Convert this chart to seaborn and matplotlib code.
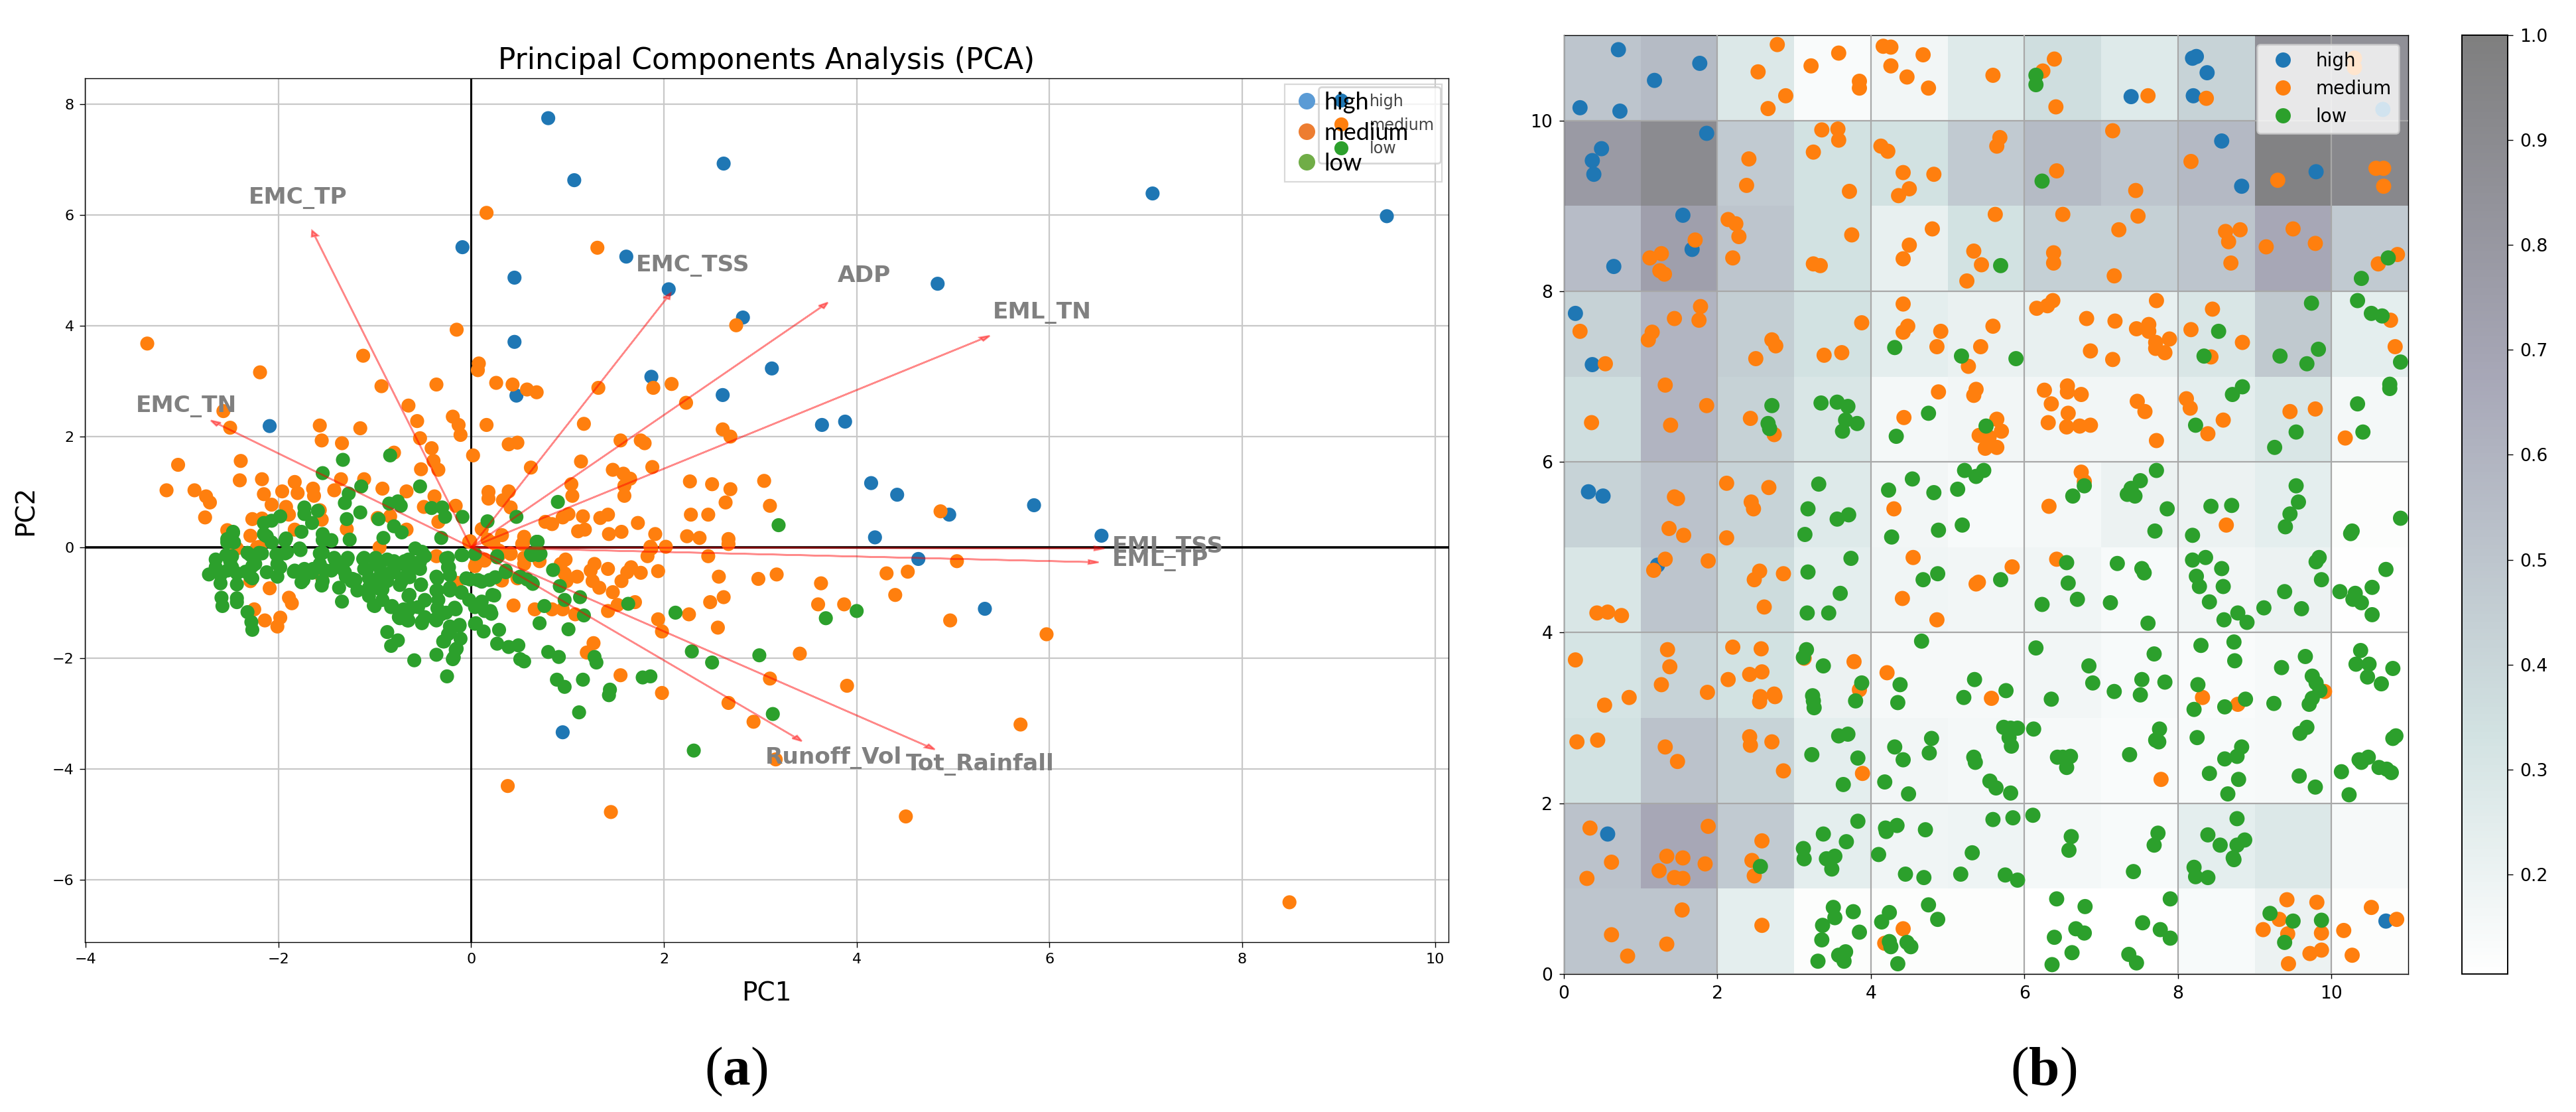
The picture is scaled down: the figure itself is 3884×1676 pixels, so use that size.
import matplotlib
matplotlib.use("Agg")
import matplotlib.pyplot as plt
from matplotlib.lines import Line2D
import numpy as np
import pandas as pd
import seaborn as sns

W, H = 3884, 1676
DPI = 200
TAB_COLORS = {"high": "#1f77b4", "medium": "#ff7f0e", "low": "#2ca02c"}
OFFICE_COLORS = ["#5B9BD5", "#ED7D31", "#70AD47"]
LEVELS = ["high", "medium", "low"]

# PCA scores
pca_high = [(.80, 7.75), (2.62, 6.93), (1.07, 6.63), (-.09, 5.42), (1.61, 5.25), (.45, 4.87), (2.05, 4.66),
            (2.82, 4.15), (.45, 3.71), (3.12, 3.23), (1.87, 3.08), (.47, 2.74), (2.61, 2.75), (-2.09, 2.19),
            (.95, -3.34), (7.07, 6.39), (9.50, 5.98), (4.84, 4.76), (3.64, 2.21), (3.88, 2.27), (4.15, 1.16),
            (4.42, .95), (4.96, .59), (5.84, .76), (6.54, .21), (4.19, .18), (4.64, -.21), (5.33, -1.11)]
pca_medium = [(4.87, .65), (5.04, -.25), (4.31, -.47), (4.53, -.44), (3.63, -.65), (4.40, -.86), (3.60, -1.03),
              (3.87, -1.03), (4.97, -1.32), (5.97, -1.57), (3.41, -1.92), (3.90, -2.50), (5.70, -3.20),
              (4.51, -4.86), (8.49, -6.41),
              (.16, 6.04), (1.31, 5.41), (-.15, 3.93), (2.75, 4.01), (-3.36, 3.68), (-1.12, 3.46), (-2.19, 3.16),
              (.08, 3.32), (.07, 3.20), (.26, 2.97), (.43, 2.94), (-.93, 2.91), (-.36, 2.94), (.58, 2.85),
              (.68, 2.80), (1.32, 2.88), (1.89, 2.88), (2.08, 2.95), (2.23, 2.61), (-.65, 2.56), (-2.57, 2.46),
              (-2.50, 2.16), (-1.57, 2.20), (-1.15, 2.15), (-.56, 2.28), (-.19, 2.36), (-.13, 2.21), (-.11, 2.03),
              (.16, 2.21), (1.17, 2.23), (2.61, 2.13), (2.69, 2.00), (-1.55, 1.93), (-1.34, 1.88), (-.53, 1.97),
              (.39, 1.86), (.48, 1.89), (1.55, 1.93), (1.76, 1.93), (1.80, 1.88), (-.80, 1.71), (-.41, 1.79),
              (.02, 1.66), (-2.39, 1.56), (-3.04, 1.49), (-.39, 1.56), (-.52, 1.41), (-.34, 1.40), (.62, 1.44),
              (1.14, 1.55), (1.47, 1.40), (1.58, 1.33), (1.88, 1.45), (-2.40, 1.21), (-2.17, 1.23), (-1.83, 1.18),
              (-1.35, 1.23), (-1.11, 1.23), (2.27, 1.19), (2.50, 1.14), (3.04, 1.20), (1.65, 1.24), (1.59, 1.11),
              (1.04, 1.14), (-3.16, 1.03), (-2.87, 1.03), (-1.96, 1.01), (-1.80, .98), (-1.64, 1.06), (-1.63, .93),
              (-1.42, 1.03), (-.92, 1.06), (-.67, 1.01), (.18, 1.00), (.39, 1.01), (2.69, 1.05), (1.05, .93),
              (1.59, .93), (-2.75, .92), (-2.15, .96), (-.38, .92), (.18, .88), (.33, .85), (-2.71, .81),
              (-2.07, .77), (2.64, .81), (3.10, .75), (-.49, .73), (-.16, .75), (.41, .72), (-1.92, .73),
              (-2.76, .54), (-2.27, .51), (-2.17, .52), (-1.89, .59), (-1.57, .67), (-1.55, .50), (2.28, .59),
              (2.46, .59), (1.42, .59), (1.34, .53), (1.16, .56), (1.01, .60), (.95, .54), (.77, .46), (.84, .42),
              (1.73, .44), (-.97, .53), (-.84, .56), (-.34, .46), (-1.29, .33), (-1.83, .32), (-2.53, .31),
              (-.67, .32), (.11, .33), (-2.29, .21), (1.11, .29), (1.18, .32), (1.43, .24), (1.56, .28),
              (1.91, .24), (2.24, .20), (2.37, .17), (2.67, .15), (2.67, .06), (.32, .22), (.17, .14), (.55, .19),
              (-.01, .11), (.54, .08), (1.86, .01), (2.02, .01), (-2.19, .01),
              (2.46, -.16), (1.87, -.02), (1.83, -.16), (.98, -.22), (.93, -.30), (1.28, -.30), (1.24, -.42),
              (1.42, -.39), (1.66, -.36), (1.62, -.45), (1.76, -.46), (1.94, -.43), (2.57, -.53), (2.98, -.57),
              (3.17, -.49), (1.56, -.61), (.97, -.47), (1.10, -.53), (.99, -.61), (1.26, -.61), (1.33, -.73),
              (1.47, -.81), (2.62, -.90), (2.48, -.99), (1.52, -1.04), (1.70, -.99), (1.42, -1.15), (.44, -1.05),
              (.66, -1.12), (.84, -1.12), (.95, -1.12), (1.08, -1.21), (2.26, -1.21), (1.94, -1.30), (2.56, -1.45),
              (1.98, -1.52), (1.27, -1.73), (1.20, -1.90), (1.55, -2.31), (3.10, -2.37), (1.98, -2.63),
              (2.67, -2.81), (2.93, -3.15), (3.16, -3.83), (.38, -4.31), (1.45, -4.78),
              (-2.09, -.74), (-1.89, -.91), (-1.86, -1.01), (-2.25, -1.12), (-2.14, -1.32), (-1.98, -1.27),
              (-2.01, -1.43), (-2.29, -.61), (.05, -.30), (.14, -.22), (.29, -.14), (.41, -.11), (.55, -.19),
              (.55, -.30), (.71, -.25), (.31, -.59), (.48, -.56), (-.15, -.64), (-.36, -.16), (-.95, 0),
              (-2.43, -.02), (-2.22, 0), (-1.55, -.53),
              (.53, .06), (.41, -.12), (.23, .08), (.32, -.60), (.29, -.06), (.14, -.24), (.04, -.34), (-.02, .10)]
pca_low = [(-1.33, 1.58), (-.84, 1.66), (-1.54, 1.34), (-1.14, 1.10), (-1.27, .97), (-1.31, .80), (-.53, 1.10),
           (-.85, .79), (-.76, .83), (-.73, .75), (.90, .82), (-.41, .71), (-.30, .72), (-.27, .55), (-.09, .55),
           (.17, .47), (.47, .55), (3.19, .40), (-1.15, .63), (-1.29, .51), (-.96, .51), (-1.73, .72), (-1.73, .60),
           (-1.59, .66), (-1.98, .56), (-2.07, .48), (-2.15, .44), (-1.65, .44), (-1.76, .28), (-.80, .38),
           (-.72, .27), (-2.15, .24), (-1.54, .24), (-1.26, .14), (-.91, .17), (-2.47, .28), (-2.53, .15),
           (.69, .10), (-.31, .17),
           (-2.53, .09), (-2.47, .26), (-2.46, .09), (-2.54, -.14), (-2.65, -.22), (-2.48, -.16), (-2.65, -.36),
           (-2.48, -.36), (-2.72, -.49), (-2.60, -.50), (-2.53, -.42), (-2.43, -.47), (-2.60, -.65), (-2.43, -.67),
           (-2.59, -.91), (-2.58, -1.06), (-2.43, -.92), (-2.43, -.99), (-2.32, -1.17), (-2.28, -1.35),
           (-2.27, -1.49), (-2.12, .20), (-2.07, .09), (-1.93, .12), (-1.78, -.02), (-2.29, -.14), (-2.17, -.11),
           (-1.93, -.11), (-2.24, -.30), (-2.29, -.53), (-2.12, -.45), (-2.01, -.53), (-2.01, -.30), (-1.83, -.42),
           (-1.73, -.39), (-1.74, -.59), (-1.64, -.39), (-1.54, -.61), (-1.57, -.30), (-1.45, .12), (-1.54, .13),
           (-1.57, -.11), (-1.42, -.19), (-1.28, -.19), (-1.33, -.39), (-1.30, -.53), (-1.24, -.61), (-1.37, -.73),
           (-1.34, -.98), (-1.18, -.78), (-1.11, -.19), (-1.11, -.39), (-.99, -.19), (-.95, -.36), (-1.06, -.56),
           (-.95, -.53), (-1.06, -.73), (-.95, -.75), (-1.01, -1.05), (-.92, -.95), (-.82, -1.06), (-.80, -.25),
           (-.80, -.45), (-.65, -.22), (-.65, -.45), (-.48, -.16), (-.53, -.39), (-.58, -.02), (-.51, -.08),
           (-.72, -.61), (-.52, -.67), (-.64, -.86), (-.48, -.95), (-.70, -1.12), (-.62, -1.09), (-.75, -1.26),
           (-.65, -1.32), (-.48, -1.26), (-.51, -1.37), (-.87, -1.53), (-.76, -1.68), (-.83, -1.78), (-.59, -2.04),
           (-.36, -1.94), (-.18, -1.99), (-.15, -1.83), (-.29, -1.70), (-.11, -1.65), (-.24, -1.57), (-.22, -1.43),
           (-.12, -1.40), (-.25, -2.33), (-.36, -.53), (-.24, -.19), (-.24, -.36), (-.10, -.14), (-.05, -.56),
           (-.36, -.78), (-.22, -.73), (-.10, -.81), (-.34, -.95), (-.17, -1.09), (-.31, -1.21), (-.36, -1.32),
           (-.02, -.95), (.07, -1.06), (.14, -1.15), (.05, -1.37), (.13, -1.52), (.29, -1.49), (.24, -.87),
           (.20, -1.15), (.07, -.59), (.19, -.59), (.36, -.45), (.27, -.16), (.27, -1.74), (.39, -1.80), (.49, -1.77),
           (.51, -2.02), (.55, -2.06), (.51, -.53), (.63, -.64), (.63, -.14), (.70, -.14), (.85, -.41), (.92, -.70),
           (.97, -.95), (1.13, -.90), (.76, -1.06), (.71, -1.37), (1.01, -1.48), (1.17, -1.23), (1.63, -1.02),
           (2.12, -1.18), (.80, -1.89), (.91, -1.98), (1.28, -1.98), (1.30, -2.08), (.89, -2.39), (.97, -2.52),
           (1.16, -2.39), (1.44, -2.57), (1.43, -2.67), (1.78, -2.35), (1.86, -2.33), (1.12, -2.98), (2.29, -1.88),
           (2.50, -2.08), (2.99, -1.95), (3.13, -3.01), (2.31, -3.67), (3.68, -1.28), (4.00, -1.15),
           (-1.20, -.59), (-.87, -.61), (-.87, -.22), (-.72, -.30), (-1.45, -.42),
           # the dense part around PC2 = -0.5
           (-2.50, -.25), (-2.32, -.10), (-2.20, -.10), (-2.27, -.34), (-2.34, -.44), (-2.27, -.56), (-1.98, -.36),
           (-2.02, -.13), (-1.91, -.09), (-1.92, .16), (-2.14, .22), (-1.77, -.05), (-1.84, -.44), (-1.75, -.46),
           (-1.76, -.63), (-1.65, -.46), (-1.55, -.69), (-1.59, -.37), (-1.52, -.41), (-1.54, -.10), (-1.45, .13),
           (-1.41, -.23), (-1.29, -.23), (-1.31, -.45), (-1.23, -.57), (-1.12, -.21), (-1.08, -.40), (-.99, -.25),
           (-1.03, -.65), (-.92, -.76), (-1.06, -.88), (-1.00, -1.06), (-.83, -1.08), (-.74, -1.28), (-.66, -1.32),
           (-.66, -1.17), (-.74, -.68), (-.65, -.88), (-.78, -.29), (-.69, -.25), (-.83, -.45), (-.68, -.53),
           (-.62, -.26), (-.53, -.26), (-.64, -.54), (-.52, -.68), (-.64, -.86), (-.48, -.96), (-.55, -1.08),
           (-.51, -1.34), (-.37, -1.30), (-.35, -1.10), (-.26, -1.18), (-.16, -1.12), (-.35, -.56), (-.26, -.20),
           (-.23, -.36), (-.22, -.50), (-.35, -.78), (-.22, -.78), (-.10, -.82), (-.01, -.58), (.04, -.12),
           (-.09, -.14), (.11, -.62), (.25, -.54), (.36, -.42), (.27, -.18), (.22, -.86), (.11, -.98), (.04, -1.08),
           (.21, -1.20), (.04, -1.38), (.50, -.54), (.58, -.58), (.64, -.66), (.62, -.12), (.68, .10), (.72, -.12),
           (-.28, -1.70), (-.21, -1.48), (-.12, -1.42), (-.16, -1.85), (-.19, -2.02)]

# loading vectors and their labels
loading_names = ["EMC_TP", "EMC_TSS", "ADP", "EML_TN", "EMC_TN", "EML_TSS", "EML_TP", "Runoff_Vol", "Tot_Rainfall"]
loading_x = [-1.65, 2.07, 3.70, 5.38, -2.70, 6.57, 6.51, 3.43, 4.81]
loading_y = [5.72, 4.59, 4.42, 3.82, 2.29, -.02, -.27, -3.50, -3.65]
label_x = [-2.31, 1.71, 3.80, 5.41, -3.48, 6.65, 6.65, 3.05, 4.51]
label_y = [6.31, 5.09, 4.90, 4.24, 2.55, .01, -.24, -3.80, -3.92]

# SOM positions
som_high = [(.71, 10.83), (1.77, 10.67), (1.18, 10.47), (.21, 10.15), (.73, 10.11), (1.86, 9.85), (.49, 9.67),
            (.37, 9.53), (.39, 9.37), (1.55, 8.89), (1.67, 8.49), (.65, 8.29), (.15, 7.74), (.37, 7.14), (.32, 5.65),
            (.51, 5.60), (.57, 1.64), (1.22, 4.79), (8.19, 10.73), (8.24, 10.75), (8.38, 10.56), (8.20, 10.29),
            (7.39, 10.28), (8.57, 9.76), (8.83, 9.23), (9.80, 9.40), (10.67, 10.13), (10.71, .62)]
som_medium = [(2.78, 10.89), (2.53, 10.57), (2.89, 10.29), (2.66, 10.14), (3.22, 10.64), (3.58, 10.79), (3.85, 10.46),
              (3.85, 10.38), (4.16, 10.87), (4.26, 10.86), (4.68, 10.77), (4.26, 10.64), (4.47, 10.51), (4.75, 10.38),
              (5.59, 10.53), (3.36, 9.89), (3.57, 9.90), (3.58, 9.77), (3.25, 9.63), (2.41, 9.55), (2.38, 9.24),
              (3.72, 9.17), (4.13, 9.70), (4.22, 9.64), (4.42, 9.39), (4.82, 9.37), (4.50, 9.20), (4.36, 9.12),
              (5.68, 9.80), (5.64, 9.70), (1.71, 8.60), (1.27, 8.44), (1.12, 8.39), (1.25, 8.24), (1.31, 8.20),
              (2.14, 8.84), (2.24, 8.79), (2.28, 8.64), (2.20, 8.39), (3.75, 8.66), (3.25, 8.32), (3.34, 8.30),
              (4.80, 8.73), (4.50, 8.54), (4.42, 8.38), (5.62, 8.90), (5.34, 8.47), (5.44, 8.31), (5.25, 8.12),
              (.21, 7.53), (.54, 7.15), (1.78, 7.82), (1.44, 7.68), (1.76, 7.66), (1.15, 7.52), (1.10, 7.43),
              (2.71, 7.43), (2.76, 7.36), (2.50, 7.21), (3.88, 7.63), (3.39, 7.25), (3.62, 7.28), (4.42, 7.85),
              (4.48, 7.59), (4.42, 7.52), (4.91, 7.53), (4.86, 7.35), (5.59, 7.59), (5.43, 7.35), (5.27, 7.12),
              (1.32, 6.90), (1.86, 6.66), (1.39, 6.43), (.36, 6.46), (2.43, 6.51), (2.74, 6.32), (4.88, 6.82),
              (4.43, 6.52), (5.37, 6.85), (5.34, 6.78), (5.64, 6.50), (5.70, 6.36), (5.41, 6.31), (5.54, 6.29),
              (5.49, 6.16), (5.64, 6.17), (5.54, 6.20), (1.44, 5.59), (1.48, 5.57), (2.12, 5.75), (2.67, 5.70),
              (2.44, 5.53), (2.47, 5.45), (4.30, 5.45), (1.37, 5.22), (1.56, 5.14), (2.12, 5.11), (1.32, 4.86),
              (1.17, 4.73), (1.88, 4.84), (2.55, 4.72), (2.48, 4.62), (2.86, 4.69), (2.61, 4.30), (.43, 4.23),
              (.57, 4.24), (.75, 4.20), (4.55, 4.88), (4.41, 4.40), (4.86, 4.15), (5.84, 4.77), (5.40, 4.59),
              (5.37, 4.57), (.15, 3.68), (1.35, 3.80), (1.38, 3.60), (1.27, 3.39), (.85, 3.24), (.53, 3.15),
              (1.87, 3.30), (2.20, 3.83), (2.57, 3.81), (2.42, 3.51), (2.58, 3.54), (2.14, 3.45), (2.74, 3.28),
              (2.75, 3.25), (2.56, 3.25), (2.55, 3.19), (3.13, 3.70), (3.78, 3.66), (3.85, 3.33), (4.21, 3.53),
              (5.57, 3.23), (.17, 2.72), (.44, 2.74), (1.32, 2.66), (1.48, 2.49), (2.42, 2.78), (2.43, 2.68),
              (2.71, 2.72), (2.86, 2.38), (3.89, 2.35), (.34, 1.71), (1.88, 1.73), (2.58, 1.56), (.62, 1.31),
              (.30, 1.12), (1.34, 1.38), (1.55, 1.36), (1.84, 1.29), (1.24, 1.21), (1.44, 1.13), (1.55, 1.12),
              (2.45, 1.33), (2.48, 1.15), (1.54, .75), (.62, .46), (1.34, .35), (.83, .21), (2.58, .57), (4.42, .53),
              (4.18, .36), (6.39, 10.72), (6.24, 10.58), (6.41, 10.16), (7.61, 10.29), (8.37, 10.26), (10.30, 10.73),
              (10.30, 10.62), (7.15, 9.88), (6.42, 9.41), (7.45, 9.18), (8.17, 9.52), (9.30, 9.30), (10.58, 9.44),
              (10.68, 9.44), (10.68, 9.23), (6.50, 8.90), (7.48, 8.88), (7.23, 8.72), (6.38, 8.45), (6.38, 8.33),
              (7.17, 8.18), (8.81, 8.72), (8.62, 8.70), (8.66, 8.58), (8.69, 8.33), (9.50, 8.73), (9.15, 8.52),
              (9.79, 8.56), (10.86, 8.43), (10.61, 8.32), (6.37, 7.89), (6.30, 7.83), (6.16, 7.80), (6.81, 7.68),
              (6.86, 7.30), (7.72, 7.89), (7.18, 7.65), (7.62, 7.61), (7.46, 7.56), (7.62, 7.53), (7.89, 7.44),
              (7.71, 7.40), (7.71, 7.33), (7.83, 7.28), (7.15, 7.20), (8.45, 7.79), (8.17, 7.55), (8.84, 7.40),
              (8.43, 7.23), (10.77, 7.66), (10.83, 7.35), (6.56, 6.89), (6.56, 6.82), (6.26, 6.84), (6.74, 6.79),
              (6.35, 6.68), (6.57, 6.57), (6.31, 6.46), (6.55, 6.41), (6.72, 6.42), (6.86, 6.43), (7.47, 6.71),
              (7.57, 6.59), (7.72, 6.25), (8.11, 6.74), (8.16, 6.63), (8.59, 6.49), (8.39, 6.33), (9.46, 6.59),
              (9.79, 6.62), (10.18, 6.28), (6.74, 5.88), (6.78, 5.77), (6.32, 5.48), (8.63, 5.26), (6.42, 4.86),
              (8.32, 3.24), (8.78, 3.16), (9.91, 3.31), (7.78, 2.28), (9.42, .87), (9.81, .84), (9.32, .64),
              (9.11, .52), (9.43, .47), (9.87, .48), (10.16, .51), (9.87, .28), (9.72, .24), (9.44, .12), (10.27, .22),
              (10.52, .78), (10.85, .64)]
som_low = [(5.69, 8.30), (6.15, 10.53), (6.15, 10.42), (6.23, 9.29), (4.31, 7.34), (5.18, 7.24), (5.89, 7.21),
           (2.71, 6.66), (2.66, 6.45), (2.68, 6.39), (3.35, 6.69), (3.56, 6.70), (3.70, 6.65), (3.67, 6.49),
           (3.82, 6.45), (3.63, 6.36), (4.75, 6.57), (4.33, 6.30), (5.50, 6.42), (5.22, 5.90), (5.47, 5.90),
           (5.37, 5.83), (4.54, 5.80), (5.13, 5.68), (4.23, 5.67), (4.82, 5.64), (3.32, 5.74), (3.18, 5.45),
           (3.71, 5.38), (3.56, 5.33), (3.14, 5.15), (4.27, 5.12), (4.88, 5.20), (5.19, 5.26), (3.74, 4.87),
           (3.18, 4.71), (4.87, 4.69), (4.68, 4.62), (3.60, 4.46), (3.17, 4.23), (3.45, 4.23), (5.69, 4.62),
           (6.23, 4.33), (4.66, 3.90), (6.15, 3.82), (3.16, 3.80), (3.12, 3.71), (3.38, 3.61), (3.88, 3.41),
           (4.38, 3.39), (5.35, 3.45), (5.76, 3.32), (5.21, 3.24), (4.35, 3.18), (3.80, 3.20), (3.24, 3.26),
           (3.25, 3.20), (3.26, 3.12), (5.73, 2.89), (5.82, 2.88), (5.91, 2.88), (6.12, 2.87), (3.58, 2.79),
           (3.70, 2.81), (5.80, 2.77), (4.79, 2.76), (4.31, 2.66), (5.83, 2.67), (4.76, 2.59), (3.23, 2.57),
           (5.34, 2.54), (5.36, 2.48), (4.42, 2.51), (3.83, 2.53), (5.55, 2.26), (5.63, 2.18), (5.82, 2.12),
           (4.18, 2.25), (3.64, 2.22), (4.49, 2.11), (6.11, 1.86), (5.59, 1.81), (5.85, 1.83), (3.83, 1.79),
           (4.34, 1.74), (4.19, 1.71), (4.20, 1.67), (4.71, 1.69), (3.38, 1.64), (3.68, 1.55), (3.12, 1.47),
           (3.13, 1.35), (3.53, 1.38), (3.42, 1.35), (3.49, 1.23), (4.10, 1.40), (5.32, 1.42), (4.45, 1.17),
           (4.69, 1.13), (5.17, 1.17), (5.75, 1.16), (5.91, 1.10), (2.56, 1.26), (3.51, .78), (3.53, .66),
           (3.77, .73), (3.37, .57), (3.85, .49), (3.36, .40), (3.31, .15), (3.58, .22), (3.67, .26), (3.65, .15),
           (4.24, .72), (4.14, .61), (4.75, .81), (4.87, .64), (4.24, .38), (4.26, .32), (4.47, .37), (4.52, .32),
           (4.35, .12), (8.34, 7.24), (8.53, 7.53), (9.33, 7.24), (9.68, 7.15), (9.83, 7.32), (9.74, 7.86),
           (10.34, 7.89), (10.52, 7.74), (10.66, 7.71), (10.90, 7.17), (10.74, 8.39), (10.39, 8.15), (8.84, 6.88),
           (8.71, 6.79), (8.23, 6.43), (9.54, 6.35), (9.26, 6.17), (10.34, 6.68), (10.41, 6.35), (10.76, 6.91),
           (10.76, 6.86), (7.72, 5.90), (7.51, 5.78), (7.39, 5.69), (7.34, 5.62), (7.44, 5.60), (6.78, 5.72),
           (6.63, 5.60), (7.86, 5.45), (8.43, 5.48), (8.70, 5.49), (9.54, 5.72), (9.57, 5.53), (9.46, 5.39),
           (10.90, 5.34), (7.70, 5.19), (8.19, 5.14), (9.40, 5.24), (10.25, 5.16), (10.27, 5.19), (6.55, 4.82),
           (7.21, 4.81), (7.53, 4.75), (7.56, 4.70), (6.57, 4.58), (6.69, 4.39), (7.12, 4.35), (7.61, 4.11),
           (8.19, 4.85), (8.36, 4.88), (8.57, 4.75), (8.24, 4.66), (8.28, 4.54), (8.59, 4.54), (8.41, 4.36),
           (8.60, 4.15), (8.78, 4.23), (8.90, 4.12), (9.12, 4.29), (9.39, 4.48), (9.61, 4.28), (9.84, 4.88),
           (9.80, 4.83), (9.87, 4.62), (10.11, 4.48), (10.31, 4.46), (10.28, 4.39), (10.39, 4.35), (10.53, 4.53),
           (10.71, 4.74), (10.53, 4.21), (6.84, 3.61), (6.89, 3.41), (6.35, 3.22), (7.17, 3.31), (7.53, 3.45),
           (7.51, 3.27), (7.83, 3.42), (7.69, 3.75), (8.30, 3.85), (8.73, 3.89), (8.74, 3.67), (8.26, 3.39),
           (8.21, 3.10), (8.61, 3.13), (8.88, 3.22), (9.25, 3.17), (9.35, 3.59), (9.66, 3.72), (9.75, 3.49),
           (9.80, 3.41), (9.85, 3.32), (9.75, 3.23), (9.71, 3.16), (10.38, 3.79), (10.32, 3.63), (10.49, 3.63),
           (10.47, 3.48), (10.65, 3.40), (10.80, 3.58), (6.43, 2.54), (6.50, 2.54), (6.60, 2.55), (6.55, 2.42),
           (7.37, 2.57), (7.76, 2.87), (7.71, 2.74), (7.75, 2.72), (8.25, 2.77), (8.83, 2.66), (8.77, 2.55),
           (8.61, 2.52), (8.41, 2.35), (8.79, 2.28), (8.65, 2.11), (9.68, 2.89), (9.59, 2.82), (9.58, 2.32),
           (9.79, 2.19), (10.13, 2.37), (10.23, 2.10), (10.84, 2.79), (10.80, 2.76), (10.36, 2.51), (10.39, 2.48),
           (10.48, 2.54), (10.62, 2.42), (10.72, 2.40), (10.78, 2.36), (6.61, 1.61), (6.58, 1.45), (7.74, 1.65),
           (7.69, 1.51), (7.42, 1.20), (8.77, 1.82), (8.39, 1.63), (8.87, 1.57), (8.77, 1.51), (8.55, 1.51),
           (8.72, 1.36), (8.73, 1.34), (8.21, 1.25), (8.23, 1.14), (8.39, 1.13), (6.42, .88), (6.79, .79),
           (6.67, .53), (6.78, .48), (6.39, .43), (6.62, .25), (6.36, .11), (7.90, .88), (7.54, .60), (7.77, .52),
           (7.90, .42), (7.36, .23), (7.46, .13), (9.20, .71), (9.50, .62), (9.39, .37), (9.87, .63)]

# distance map cell values, bottom row first
som_cells = [
    [.50, .50, .24, .12, .12, .12, .105, .105, .14, .20, .12],
    [.52, .68, .47, .24, .18, .19, .16, .14, .24, .28, .15],
    [.33, .52, .42, .24, .17, .16, .15, .13, .14, .15, .105],
    [.32, .42, .33, .20, .15, .15, .17, .14, .13, .15, .105],
    [.30, .50, .37, .24, .18, .17, .18, .14, .17, .20, .11],
    [.42, .52, .42, .27, .17, .14, .16, .20, .20, .24, .12],
    [.36, .60, .43, .30, .16, .17, .17, .17, .24, .30, .16],
    [.43, .60, .45, .33, .24, .21, .22, .22, .30, .48, .24],
    [.55, .74, .50, .33, .22, .33, .44, .44, .50, .68, .47],
    [.78, .90, .47, .33, .33, .47, .56, .50, .57, .97, .92],
    [.50, .56, .28, .13, .17, .27, .36, .27, .42, .86, .86],
]


def to_frame(groups):
    rows = []
    for level, points in zip(LEVELS, groups):
        for x, y in points:
            rows.append({"x": x, "y": y, "level": level})
    return pd.DataFrame(rows)


def px_axes(fig, left, top, right, bottom):
    return fig.add_axes([left / W, 1 - bottom / H, (right - left) / W, (bottom - top) / H])


def plot_pca(fig):
    ax = px_axes(fig, 128, 118, 2184, 1420)
    ax.grid(True, color="#c8c8c8", linewidth=0.8)
    ax.set_axisbelow(True)
    ax.axhline(0, color="black", linewidth=1.3, zorder=1.6)
    ax.axvline(0, color="black", linewidth=1.1, zorder=1.6)
    sns.scatterplot(data=to_frame([pca_high, pca_medium, pca_low]), x="x", y="y", hue="level", hue_order=LEVELS,
                    palette=TAB_COLORS, s=58, linewidth=0, ax=ax, zorder=2)
    for i, name in enumerate(loading_names):
        ax.arrow(0, 0, loading_x[i], loading_y[i], color="r", alpha=0.45, linewidth=0.9, head_width=0.07,
                 length_includes_head=True, zorder=3)
        ax.text(label_x[i], label_y[i], name, color="gray", fontweight="bold", fontsize=12.4, va="center", zorder=4)
    ax.set_xlim(-4.007, 10.14)
    ax.set_ylim(-7.13, 8.47)
    ax.set_xticks(np.arange(-4, 11, 2))
    ax.set_yticks(np.arange(-6, 9, 2))
    ax.tick_params(labelsize=8, length=2.9, width=0.5, pad=3)
    ax.set_title("Principal Components Analysis (PCA)", fontsize=15.8, pad=5)
    ax.set_xlabel("PC1", fontsize=14, labelpad=8)
    ax.set_ylabel("PC2", fontsize=14, labelpad=7.5)
    for spine in ax.spines.values():
        spine.set_linewidth(0.5)

    # small legend from the plot itself, second one pasted over it
    small = ax.legend(loc="upper right", bbox_to_anchor=(0.9942, 0.990), borderaxespad=0, fontsize=8.6,
                      labelcolor="#444444", framealpha=0.8, title=None)
    ax.add_artist(small)
    handles = [Line2D([], [], marker="o", linestyle="none", markersize=8, color=c, label=n)
               for c, n in zip(OFFICE_COLORS, LEVELS)]
    big = ax.legend(handles=handles, loc="upper left", bbox_to_anchor=(0.8799, 0.8, 0.1153, 0.1931), mode="expand",
                    borderaxespad=0, prop={"family": "Lato", "size": 13}, fancybox=False, edgecolor="#d0d0d0",
                    facecolor="none", framealpha=None, labelspacing=0.36, handletextpad=0.15, handlelength=1.2,
                    borderpad=0.3)
    big.get_frame().set_linewidth(0.8)


def plot_som(fig):
    ax = px_axes(fig, 2358, 53, 3631, 1468)
    cax = px_axes(fig, 3712, 53, 3781, 1468)
    sns.heatmap(np.array(som_cells), cmap="bone_r", alpha=0.5, vmin=0.105, vmax=1.0, ax=ax, cbar_ax=cax,
                cbar_kws={"ticks": np.arange(0.2, 1.01, 0.1)}, xticklabels=False, yticklabels=False)
    ax.set_xlim(0, 11)
    ax.set_ylim(0, 11)
    ax.set_xticks(np.arange(0, 11, 2))
    ax.set_yticks(np.arange(0, 11, 2))
    ax.set_xticklabels([str(v) for v in range(0, 11, 2)])
    ax.set_yticklabels([str(v) for v in range(0, 11, 2)], rotation=0)
    ax.grid(True, color="#a8a8a8", linewidth=0.8)
    ax.set_axisbelow(False)
    sns.scatterplot(data=to_frame([som_high, som_medium, som_low]), x="x", y="y", hue="level", hue_order=LEVELS,
                    palette=TAB_COLORS, s=68, linewidth=0, ax=ax, zorder=3)
    ax.set_xlabel("")
    ax.set_ylabel("")
    ax.tick_params(labelsize=9.6, length=2.5, width=0.5)
    for spine in ax.spines.values():
        spine.set_visible(True)
        spine.set_linewidth(0.5)
    ax.legend(loc="upper right", fontsize=10, framealpha=0.8, title=None)
    ax.get_legend().set_zorder(5)
    cax.tick_params(labelsize=9.6, length=3, width=0.5)
    for spine in cax.spines.values():
        spine.set_visible(True)
        spine.set_linewidth(0.6)


def main():
    plt.rcParams["mathtext.fontset"] = "custom"
    plt.rcParams["mathtext.rm"] = "Liberation Serif"
    plt.rcParams["mathtext.bf"] = "Liberation Serif:bold"
    fig = plt.figure(figsize=(W / DPI, H / DPI), dpi=DPI)
    plot_pca(fig)
    plot_som(fig)
    fig.text(1110 / W, 1 - 1615 / H, r"($\mathbf{a}$)", family="Liberation Serif", fontsize=30, ha="center", va="center")
    fig.text(3081 / W, 1 - 1615 / H, r"($\mathbf{b}$)", family="Liberation Serif", fontsize=30, ha="center", va="center")
    fig.savefig("out.png", dpi=DPI)
    plt.close(fig)


if __name__ == "__main__":
    main()
